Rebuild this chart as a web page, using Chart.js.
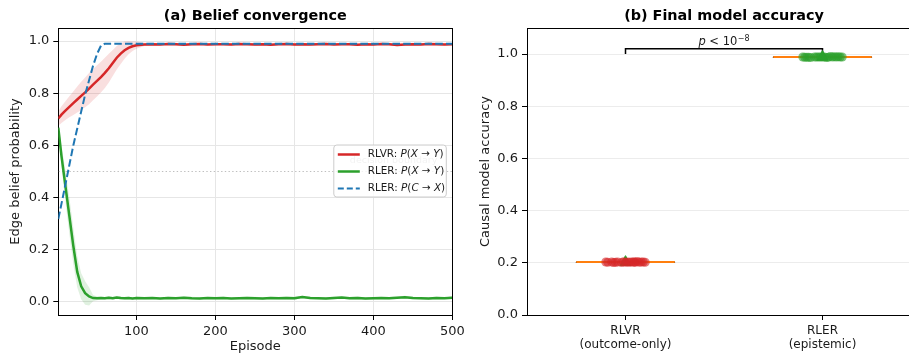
<!DOCTYPE html>
<html lang="en">
<head>
<meta charset="UTF-8">
<title>Belief convergence / Final model accuracy</title>
<script src="https://cdn.jsdelivr.net/npm/chart.js"></script>
<style>
    html, body { margin: 0; padding: 0; background: #fff; overflow: hidden; }
    body { width: 909px; height: 354px; position: relative; }
    #graficoCurvas { position: absolute; left: 0; top: 0; width: 480px; height: 354px; }
    #graficoAcuracia { position: absolute; left: 460px; top: 0; width: 470px; height: 354px; }
</style>
</head>
<body>
<canvas id="graficoCurvas" width="480" height="354"></canvas>
<canvas id="graficoAcuracia" width="470" height="354"></canvas>

<script>
// ---- (a) belief curves ----
const episodes = [1, 5, 10, 15, 20, 25, 30, 35, 40, 45, 50, 55, 60, 65, 70, 75, 80, 85, 90, 95, 100,
    110, 120, 130, 140, 150, 160, 170, 180, 190, 200, 210, 220, 230, 240, 250, 260, 270, 280, 290, 300,
    310, 320, 330, 340, 350, 360, 370, 380, 390, 400, 410, 420, 430, 440, 450, 460, 470, 480, 490, 500];

const rlvrXY = [0.703, 0.718, 0.733, 0.748, 0.762, 0.776, 0.790, 0.803, 0.818, 0.833, 0.847, 0.862, 0.878, 0.896, 0.916, 0.936, 0.952, 0.965, 0.974, 0.980, 0.984,
    0.987, 0.988, 0.987, 0.989, 0.988, 0.986, 0.988, 0.989, 0.987, 0.988,
    0.988, 0.987, 0.989, 0.988, 0.987, 0.988, 0.986, 0.988, 0.989, 0.987,
    0.988, 0.987, 0.988, 0.989, 0.987, 0.988, 0.988, 0.986, 0.988, 0.987,
    0.989, 0.988, 0.985, 0.987, 0.988, 0.987, 0.989, 0.988, 0.987, 0.988];
const rlvrXYsd = [0.028, 0.032, 0.036, 0.040, 0.045, 0.050, 0.054, 0.057, 0.060, 0.060, 0.060, 0.059, 0.058, 0.055, 0.050, 0.045, 0.040, 0.033, 0.025, 0.018, 0.014,
    0.006, 0.005, 0.005, 0.004, 0.005, 0.004, 0.005, 0.004, 0.004, 0.005,
    0.004, 0.005, 0.004, 0.004, 0.005, 0.004, 0.005, 0.004, 0.004, 0.005,
    0.004, 0.005, 0.004, 0.005, 0.004, 0.004, 0.005, 0.004, 0.004, 0.005,
    0.004, 0.004, 0.005, 0.004, 0.005, 0.004, 0.004, 0.005, 0.004, 0.004];

const rlerXY = [0.668, 0.560, 0.445, 0.330, 0.215, 0.115, 0.060, 0.034, 0.021, 0.015, 0.014, 0.015, 0.014, 0.016, 0.014, 0.017, 0.015, 0.014, 0.015, 0.013, 0.015,
    0.014, 0.015, 0.013, 0.015, 0.014, 0.016, 0.014, 0.013, 0.015, 0.014,
    0.015, 0.013, 0.014, 0.015, 0.014, 0.013, 0.015, 0.014, 0.015, 0.014,
    0.019, 0.015, 0.014, 0.013, 0.015, 0.017, 0.014, 0.015, 0.013, 0.014,
    0.015, 0.014, 0.016, 0.018, 0.015, 0.014, 0.013, 0.015, 0.014, 0.016];
const rlerXYsd = [0.010, 0.040, 0.060, 0.070, 0.070, 0.060, 0.050, 0.045, 0.035, 0.012, 0.007, 0.005, 0.005, 0.006, 0.005, 0.005, 0.006, 0.005, 0.005, 0.005, 0.005,
    0.005, 0.004, 0.005, 0.005, 0.004, 0.005, 0.006, 0.005, 0.004, 0.005,
    0.005, 0.004, 0.005, 0.005, 0.006, 0.005, 0.004, 0.005, 0.005, 0.006,
    0.005, 0.005, 0.004, 0.005, 0.005, 0.004, 0.005, 0.006, 0.005, 0.005,
    0.004, 0.005, 0.005, 0.006, 0.005, 0.004, 0.005, 0.005, 0.004, 0.005];

const rlerCX = [0.318, 0.376, 0.450, 0.525, 0.600, 0.665, 0.730, 0.795, 0.850, 0.905, 0.950, 0.982, 0.990,
    0.990, 0.990, 0.990, 0.990, 0.990, 0.990, 0.990, 0.990,
    0.990, 0.990, 0.990, 0.990, 0.990, 0.990, 0.990, 0.990, 0.990, 0.990,
    0.990, 0.990, 0.990, 0.990, 0.990, 0.990, 0.990, 0.990, 0.990, 0.990,
    0.990, 0.990, 0.990, 0.990, 0.990, 0.990, 0.990, 0.990, 0.990, 0.990,
    0.990, 0.990, 0.990, 0.990, 0.990, 0.990, 0.990, 0.990, 0.990, 0.990];

const decisionBoundary = 0.5;
const episodeTicks = [100, 200, 300, 400, 500];
const beliefTicks = [0, 0.2, 0.4, 0.6, 0.8, 1.0];

// ---- (b) final accuracy per seed ----
const groups = ['RLVR', 'RLER'];
const groupNotes = ['(outcome-only)', '(epistemic)'];
const rlvrAcc = [0.203, 0.202, 0.203, 0.202, 0.203, 0.201, 0.204, 0.202, 0.203, 0.202, 0.203, 0.203, 0.202, 0.205, 0.202, 0.203, 0.203, 0.202, 0.201, 0.203];
const rlerAcc = [0.989, 0.989, 0.988, 0.990, 0.989, 0.987, 0.989, 0.989, 0.988, 0.989, 0.990, 0.989, 0.988, 0.989, 0.989, 0.991, 0.988, 0.989, 0.989, 0.987];
const rlvrJitter = [-0.10, -0.09, -0.07, -0.05, -0.04, -0.02, -0.01, 0.00, 0.01, 0.02, 0.03, 0.04, 0.05, 0.06, 0.07, 0.08, 0.09, 0.10, -0.06, 0.045];
const rlerJitter = [-0.02, 0.05, -0.09, 0.08, 0.00, -0.06, 0.10, -0.04, 0.03, -0.10, 0.06, 0.01, -0.07, 0.09, -0.03, 0.04, -0.08, 0.07, -0.01, 0.02];
const accTicks = [0, 0.2, 0.4, 0.6, 0.8, 1.0];
const bracketY = 1.0;
const bracketH = 0.02;

Chart.defaults.font.family = "'DejaVu Sans', sans-serif";
Chart.defaults.color = '#1a1a1a';

const VERMELHO = '#d62728', VERDE = '#2ca02c', AZUL = '#1f77b4', LARANJA = '#ff7f0e';

function pontos(xs, ys) {
    return xs.map(function (x, i) { return { x: x, y: ys[i] }; });
}

function ticksFixos(valores) {
    return function (escala) {
        escala.ticks = valores.map(function (v) { return { value: v }; });
    };
}

function texto(ctx, partes, x, y, tamanho) {
    // partes: [texto, italico]
    let cx = x;
    for (let i = 0; i < partes.length; i++) {
        ctx.font = (partes[i][1] ? 'italic ' : '') + tamanho + "px 'DejaVu Sans'";
        ctx.fillText(partes[i][0], cx, y);
        cx += ctx.measureText(partes[i][0]).width;
    }
    return cx - x;
}

const itensLegenda = [
    { partes: [['RLVR: ', 0], ['P', 1], ['(', 0], ['X', 1], [' \u2192 ', 0], ['Y', 1], [')', 0]], cor: VERMELHO, largura: 2.5, traco: [] },
    { partes: [['RLER: ', 0], ['P', 1], ['(', 0], ['X', 1], [' \u2192 ', 0], ['Y', 1], [')', 0]], cor: VERDE, largura: 2.5, traco: [] },
    { partes: [['RLER: ', 0], ['P', 1], ['(', 0], ['C', 1], [' \u2192 ', 0], ['X', 1], [')', 0]], cor: AZUL, largura: 2, traco: [6, 3] }
];

const extrasCurvas = {
    id: 'extrasCurvas',
    afterDraw(chart) {
        const ctx = chart.ctx, a = chart.chartArea;
        const sx = chart.scales.x, sy = chart.scales.y;
        ctx.save();

        // top and right spines
        ctx.strokeStyle = '#000';
        ctx.lineWidth = 1;
        ctx.beginPath();
        ctx.moveTo(a.left, Math.round(a.top) + 0.5);
        ctx.lineTo(a.right, Math.round(a.top) + 0.5);
        ctx.moveTo(Math.round(a.right) + 0.5, a.top);
        ctx.lineTo(Math.round(a.right) + 0.5, a.bottom);
        ctx.stroke();

        // title
        ctx.fillStyle = '#000';
        ctx.font = "bold 14.4px 'DejaVu Sans'";
        ctx.textAlign = 'center';
        ctx.textBaseline = 'middle';
        ctx.fillText('(a) Belief convergence', (a.left + a.right) / 2, 16);

        // boundary label
        ctx.font = "9.5px 'DejaVu Sans'";
        ctx.fillStyle = 'rgba(128,128,128,0.5)';
        ctx.textAlign = 'right';
        ctx.fillText('decision boundary', sx.getPixelForValue(481), sy.getPixelForValue(decisionBoundary) - 11);

        // legend
        const lx = a.right - 118.5, ly = 145, lw = 112.5, lh = 52;
        ctx.beginPath();
        ctx.roundRect(lx, ly, lw, lh, 3);
        ctx.fillStyle = 'rgba(255,255,255,0.8)';
        ctx.fill();
        ctx.strokeStyle = '#cccccc';
        ctx.lineWidth = 1;
        ctx.stroke();

        ctx.textAlign = 'left';
        ctx.textBaseline = 'middle';
        for (let i = 0; i < itensLegenda.length; i++) {
            const it = itensLegenda[i];
            const yy = ly + 9.5 + i * 17;
            ctx.strokeStyle = it.cor;
            ctx.lineWidth = it.largura;
            ctx.setLineDash(it.traco);
            ctx.beginPath();
            ctx.moveTo(lx + 4, yy);
            ctx.lineTo(lx + 26, yy);
            ctx.stroke();
            ctx.setLineDash([]);
            ctx.fillStyle = '#1a1a1a';
            texto(ctx, it.partes, lx + 34, yy, 10.4);
        }
        ctx.restore();
    }
};

new Chart(document.getElementById('graficoCurvas'), {
    type: 'line',
    data: {
        datasets: [
            { data: pontos(episodes, rlerCX), borderColor: AZUL, borderWidth: 2, borderDash: [7.5, 3.2], pointRadius: 0, fill: false, tension: 0, order: 1 },
            { data: pontos(episodes, rlvrXY), borderColor: VERMELHO, borderWidth: 2.5, pointRadius: 0, fill: false, tension: 0, order: 2 },
            { data: pontos(episodes, rlerXY), borderColor: VERDE, borderWidth: 2.5, pointRadius: 0, fill: false, tension: 0, order: 3 },
            { data: pontos(episodes, rlvrXY.map(function (v, i) { return v + rlvrXYsd[i]; })), borderColor: 'rgba(0,0,0,0)', borderWidth: 0, pointRadius: 0, backgroundColor: 'rgba(214,39,40,0.15)', fill: '+1', order: 5 },
            { data: pontos(episodes, rlvrXY.map(function (v, i) { return v - rlvrXYsd[i]; })), borderColor: 'rgba(0,0,0,0)', borderWidth: 0, pointRadius: 0, fill: false, order: 5 },
            { data: pontos(episodes, rlerXY.map(function (v, i) { return v + rlerXYsd[i]; })), borderColor: 'rgba(0,0,0,0)', borderWidth: 0, pointRadius: 0, backgroundColor: 'rgba(44,160,44,0.15)', fill: '+1', order: 5 },
            { data: pontos(episodes, rlerXY.map(function (v, i) { return v - rlerXYsd[i]; })), borderColor: 'rgba(0,0,0,0)', borderWidth: 0, pointRadius: 0, fill: false, order: 5 },
            { data: [{ x: 1, y: decisionBoundary }, { x: 500, y: decisionBoundary }], borderColor: 'rgba(128,128,128,0.5)', borderWidth: 1, borderDash: [1.4, 2.3], pointRadius: 0, fill: false, order: 9 }
        ]
    },
    options: {
        responsive: false,
        animation: false,
        events: [],
        layout: { padding: { left: 0, right: 480 - 452.3, top: 28, bottom: 0 } },
        plugins: { legend: { display: false }, tooltip: { enabled: false } },
        scales: {
            x: {
                type: 'linear', min: 1, max: 500,
                afterBuildTicks: ticksFixos(episodeTicks),
                afterFit: function (s) { s.height = 39; },
                ticks: { font: { size: 13 }, padding: 4, maxRotation: 0, color: '#1a1a1a' },
                grid: { color: '#e6e6e6', tickColor: '#000', tickLength: 5 },
                border: { color: '#000', width: 1 },
                title: { display: true, text: 'Episode', font: { size: 13 }, padding: { top: 0, bottom: 0 }, color: '#1a1a1a' }
            },
            y: {
                type: 'linear', min: -0.05, max: 1.05,
                afterBuildTicks: ticksFixos(beliefTicks),
                afterFit: function (s) { s.width = 58.3; },
                ticks: { font: { size: 13 }, padding: 4, color: '#1a1a1a', callback: function (v) { return v.toFixed(1); } },
                grid: { color: '#e6e6e6', tickColor: '#000', tickLength: 5 },
                border: { color: '#000', width: 1 },
                title: { display: true, text: 'Edge belief probability', font: { size: 13 }, padding: { top: 8, bottom: 0 }, color: '#1a1a1a' }
            }
        }
    },
    plugins: [extrasCurvas]
});

// ---- (b) ----
function quantil(valores, q) {
    const s = valores.slice().sort(function (a, b) { return a - b; });
    const pos = (s.length - 1) * q, base = Math.floor(pos), resto = pos - base;
    if (base + 1 < s.length) return s[base] + resto * (s[base + 1] - s[base]);
    return s[base];
}

function resumo(valores) {
    const q1 = quantil(valores, 0.25), med = quantil(valores, 0.5), q3 = quantil(valores, 0.75);
    const iqr = q3 - q1;
    const dentro = valores.filter(function (v) { return v >= q1 - 1.5 * iqr && v <= q3 + 1.5 * iqr; });
    let soma = 0;
    for (let i = 0; i < valores.length; i++) soma += valores[i];
    return { q1: q1, med: med, q3: q3, lo: Math.min.apply(null, dentro), hi: Math.max.apply(null, dentro), media: soma / valores.length };
}

const seriesAcc = [rlvrAcc, rlerAcc];
const jitters = [rlvrJitter, rlerJitter];
const coresPontos = ['rgba(214,39,40,0.6)', 'rgba(44,160,44,0.6)'];

const conjuntos = [];
function linha(pts, cor, largura, ordem) {
    conjuntos.push({ data: pts, showLine: true, borderColor: cor, borderWidth: largura, pointRadius: 0, fill: false, order: ordem });
}

for (let g = 0; g < groups.length; g++) {
    const vals = seriesAcc[g];
    conjuntos.push({
        data: vals.map(function (v, k) { return { x: g + jitters[g][k], y: v }; }),
        backgroundColor: coresPontos[g], borderColor: 'rgba(0,0,0,0)', borderWidth: 0, pointRadius: 4.5, order: 1
    });
}
for (let g = 0; g < groups.length; g++) {
    const r = resumo(seriesAcc[g]);
    conjuntos.push({ data: [{ x: g, y: r.media }], pointStyle: 'triangle', pointRadius: 6.5, backgroundColor: VERDE, borderColor: VERDE, borderWidth: 1, order: 2 });
    linha([{ x: g - 0.25, y: r.med }, { x: g + 0.25, y: r.med }], LARANJA, 2, 3);
    linha([{ x: g - 0.25, y: r.q1 }, { x: g + 0.25, y: r.q1 }, { x: g + 0.25, y: r.q3 }, { x: g - 0.25, y: r.q3 }, { x: g - 0.25, y: r.q1 }], '#000', 1, 4);
    linha([{ x: g, y: r.q1 }, { x: g, y: r.lo }], '#000', 1, 4);
    linha([{ x: g, y: r.q3 }, { x: g, y: r.hi }], '#000', 1, 4);
    linha([{ x: g - 0.125, y: r.lo }, { x: g + 0.125, y: r.lo }], '#000', 1, 4);
    linha([{ x: g - 0.125, y: r.hi }, { x: g + 0.125, y: r.hi }], '#000', 1, 4);
}
linha([{ x: 0, y: bracketY }, { x: 0, y: bracketY + bracketH }, { x: 1, y: bracketY + bracketH }, { x: 1, y: bracketY }], '#000', 1.5, 5);

const extrasAcuracia = {
    id: 'extrasAcuracia',
    afterDraw(chart) {
        const ctx = chart.ctx, a = chart.chartArea;
        const sx = chart.scales.x, sy = chart.scales.y;
        ctx.save();
        ctx.strokeStyle = '#000';
        ctx.lineWidth = 1;
        ctx.beginPath();
        ctx.moveTo(a.left, Math.round(a.top) + 0.5);
        ctx.lineTo(a.right, Math.round(a.top) + 0.5);
        ctx.stroke();

        ctx.fillStyle = '#000';
        ctx.font = "bold 14.4px 'DejaVu Sans'";
        ctx.textAlign = 'center';
        ctx.textBaseline = 'middle';
        ctx.fillText('(b) Final model accuracy', (a.left + a.right) / 2, 16);

        // p-value above the bracket
        const base = sy.getPixelForValue(bracketY + bracketH) - 3.5;
        const cx = sx.getPixelForValue(0.5);
        ctx.textAlign = 'left';
        ctx.textBaseline = 'alphabetic';
        ctx.font = "italic 11.5px 'DejaVu Sans'";
        const wP = ctx.measureText('p').width;
        ctx.font = "11.5px 'DejaVu Sans'";
        const wM = ctx.measureText(' < 10').width;
        ctx.font = "8px 'DejaVu Sans'";
        const wS = ctx.measureText('\u22128').width;
        let x0 = cx - (wP + wM + wS + 0.5) / 2;
        ctx.fillStyle = '#1a1a1a';
        ctx.font = "italic 11.5px 'DejaVu Sans'";
        ctx.fillText('p', x0, base);
        ctx.font = "11.5px 'DejaVu Sans'";
        ctx.fillText(' < 10', x0 + wP, base);
        ctx.font = "8px 'DejaVu Sans'";
        ctx.fillText('\u22128', x0 + wP + wM + 0.5, base - 4.8);
        ctx.restore();
    }
};

new Chart(document.getElementById('graficoAcuracia'), {
    type: 'scatter',
    data: { datasets: conjuntos },
    options: {
        responsive: false,
        animation: false,
        events: [],
        layout: { padding: { left: 0, right: 9, top: 28, bottom: 0 } },
        plugins: { legend: { display: false }, tooltip: { enabled: false } },
        scales: {
            x: {
                type: 'linear', min: -0.5, max: 1.5,
                afterBuildTicks: ticksFixos([0, 1]),
                afterFit: function (s) { s.height = 39; },
                ticks: {
                    font: { size: 12, lineHeight: 1.17 }, padding: 4, maxRotation: 0, color: '#1a1a1a',
                    callback: function (v) { return [groups[v], groupNotes[v]]; }
                },
                grid: { drawOnChartArea: false, tickColor: '#000', tickLength: 5 },
                border: { color: '#000', width: 1 }
            },
            y: {
                type: 'linear', min: 0, max: 1.1,
                afterBuildTicks: ticksFixos(accTicks),
                afterFit: function (s) { s.width = 67; },
                ticks: { font: { size: 13 }, padding: 4, color: '#1a1a1a', callback: function (v) { return v.toFixed(1); } },
                grid: { color: '#ececec', tickColor: '#000', tickLength: 5 },
                border: { color: '#000', width: 1 },
                title: { display: true, text: 'Causal model accuracy', font: { size: 13 }, padding: { top: 17.5, bottom: 0 }, color: '#1a1a1a' }
            }
        }
    },
    plugins: [extrasAcuracia]
});
</script>
</body>
</html>
